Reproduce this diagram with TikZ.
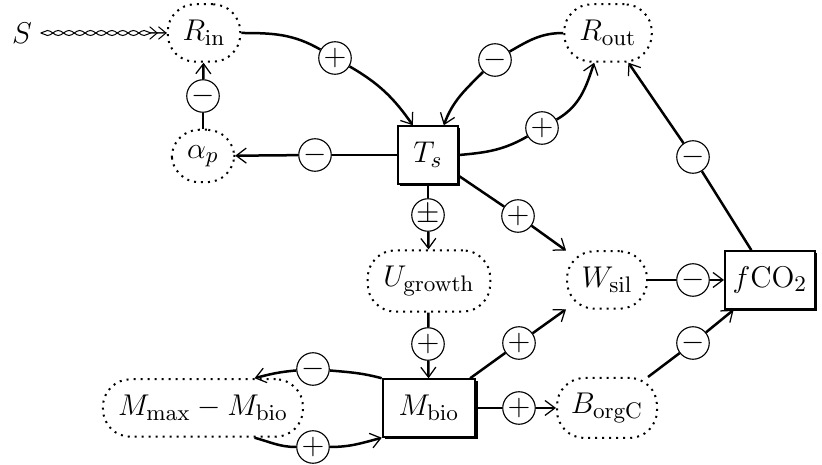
\documentclass[tikz,border=0pt]{standalone}
\usetikzlibrary{arrows.meta,shadows,decorations.pathmorphing}
\begin{document}
\begin{tikzpicture}[x=0.4pt,y=-0.4pt,
  every node/.style={font=\fontsize{13}{15}\selectfont},
  conn/.style={line width=1pt},
  arr/.style={conn,-{Straight Barb[length=4pt,width=6pt,line width=0.5pt]}},
  sign/.style={circle,draw,line width=0.45pt,fill=white,minimum size=13pt,inner sep=0pt},
  var/.style={draw,dotted,line width=0.8pt,rounded corners=11pt,minimum height=23pt,inner sep=2pt},
  stock/.style={draw,line width=0.8pt,fill=white,minimum height=23pt,inner sep=2pt,
    drop shadow={shadow xshift=0.9pt,shadow yshift=-0.9pt,fill=black,opacity=1}},
  wave/.style={line width=0.4pt,decorate,
    decoration={snake,amplitude=1pt,segment length=8.6pt,post length=3pt}}]
\useasboundingbox (0,0) rectangle (822,465);

% state variables
\node (S) at (22,33) {$S$};
\node[var,minimum width=29pt] (Rin) at (204,33) {$R_{\rm in}$};
\node[var,minimum width=35pt] (Rout) at (608,33) {$R_{\rm out}$};
\node[var,minimum width=25pt,minimum height=21pt] (ap) at (203,156) {$\alpha_p$};
\node[stock,minimum width=24pt] (Ts) at (428,155) {$T_s$};
\node[var,minimum width=49pt,minimum height=24.5pt] (Ug) at (429,281) {$U_{\rm growth}$};
\node[var,minimum width=32pt] (Wsil) at (607,280) {$W_{\rm sil}$};
\node[stock,minimum width=36pt] (fCO) at (770,280) {$f{\rm CO}_2$};
\node[stock,minimum width=37pt] (Mbio) at (429,408) {$M_{\rm bio}$};
\node[var,minimum width=80pt] (Mmax) at (203,408) {$M_{\rm max}-M_{\rm bio}$};
\node[var,minimum width=40pt,minimum height=24pt] (Borg) at (607,408) {$B_{\rm orgC}$};

% signs of the couplings
\node[sign] (p1) at (335,58) {$+$};
\node[sign] (m1) at (495,60) {$-$};
\node[sign] (p2) at (542,128) {$+$};
\node[sign] (m2) at (203,96) {$-$};
\node[sign] (m3) at (315,155) {$-$};
\node[sign] (pm) at (428,215) {$\pm$};
\node[sign] (p3) at (518,216) {$+$};
\node[sign] (m4) at (693,280) {$-$};
\node[sign] (m5) at (693,157) {$-$};
\node[sign] (p4) at (428,344) {$+$};
\node[sign] (p5) at (519,343) {$+$};
\node[sign] (m6) at (693,343) {$-$};
\node[sign] (p6) at (519,408) {$+$};
\node[sign] (m7) at (313,369) {$-$};
\node[sign] (p7) at (313,447) {$+$};

% insolation forcing
\draw[wave] (S.east) -- (Rin.west);
\draw[wave,decoration={mirror},-{Straight Barb[length=3pt,width=5pt,line width=0.4pt]Straight Barb[length=3pt,width=5pt,line width=0.4pt]}] (S.east) -- (Rin.west);

% radiation loop
\draw[conn] (Rin.east) to[out=0,in=150] (p1);
\draw[arr] (p1) to[out=-30,in=125] (Ts.117);
\draw[conn] (Rout.west) to[out=180,in=30] (m1);
\draw[arr] (m1) to[out=-135,in=70] (Ts.62);
\draw[conn] (Ts.east) to[out=5,in=210] (p2);
\draw[arr] (p2) to[out=30,in=-108] (Rout.-115);

% albedo
\draw[conn] (Ts) -- (m3);
\draw[arr] (m3) -- (ap);
\draw[conn] (ap) -- (m2);
\draw[arr] (m2) -- (Rin);

% temperature effects
\draw[conn] (Ts) -- (pm);
\draw[arr] (pm) -- (Ug);
\draw[conn] (Ts) -- (p3);
\draw[arr] (p3) -- (Wsil);

% carbon cycle
\draw[conn] (Wsil) -- (m4);
\draw[arr] (m4) -- (fCO);
\draw[conn] (fCO) -- (m5);
\draw[arr] (m5) -- (Rout);
\draw[conn] (Borg) -- (m6);
\draw[arr] (m6) -- (fCO);

% biosphere
\draw[conn] (Ug) -- (p4);
\draw[arr] (p4) -- (Mbio);
\draw[conn] (Mbio) -- (p5);
\draw[arr] (p5) -- (Wsil);
\draw[conn] (Mbio) -- (p6);
\draw[arr] (p6) -- (Borg);
\draw[conn] (Mbio.north west) to[out=165,in=-5] (m7);
\draw[arr] (m7) to[out=185,in=15] (Mmax.30);
\draw[conn] (Mmax.-30) to[out=-15,in=180] (p7);
\draw[arr] (p7) to[out=0,in=195] (Mbio.south west);
\end{tikzpicture}
\end{document}
